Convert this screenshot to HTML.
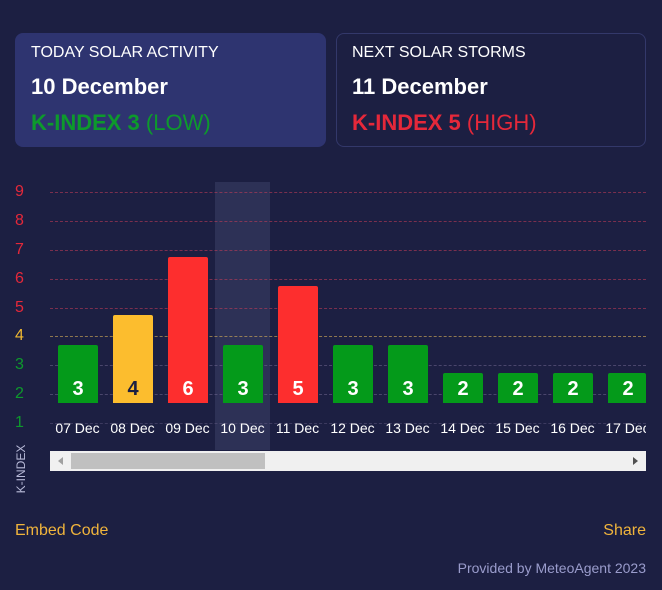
<!DOCTYPE html>
<html><head><meta charset="utf-8"><style>
*{margin:0;padding:0;box-sizing:border-box}
body{width:662px;height:590px;background:#1c1f42;font-family:"Liberation Sans",Arial,sans-serif;position:relative;overflow:hidden;color:#fff}
.a{position:absolute}
.card{position:absolute;top:33px;height:114px;border-radius:8px}
.t{font-size:16px;position:absolute;left:16px;top:11px}
.d{font-size:22px;font-weight:bold;position:absolute;left:16px;top:41px}
.k{font-size:22px;position:absolute;left:16px;top:77px}
.yl{position:absolute;left:15px;font-size:16px;width:12px}
.gl{position:absolute;left:50px;width:596px;height:0;border-top:1px dashed rgba(200,60,90,0.55)}
.bar{position:absolute;width:40px;border-radius:2px 2px 0 0;text-align:center;font-weight:bold;font-size:20px}
.bar span{position:absolute;left:0;right:0;bottom:2px;line-height:24px}
.dl{position:absolute;top:419px;width:55px;text-align:center;font-size:14px;color:#fff}
</style></head><body>
<div class="card" style="left:15px;width:311px;background:#2e3470">
<div class="t">TODAY SOLAR ACTIVITY</div>
<div class="d">10 December</div>
<div class="k" style="color:#0d9a2c"><b>K-INDEX 3</b> (LOW)</div>
</div>
<div class="card" style="left:336px;width:310px;border:1px solid #33386a">
<div class="t" style="left:15px;top:10px">NEXT SOLAR STORMS</div>
<div class="d" style="left:15px;top:40px">11 December</div>
<div class="k" style="left:15px;top:76px;color:#e5283a"><b>K-INDEX 5</b> (HIGH)</div>
</div>

<div class="a" style="left:215px;top:182px;width:55px;height:268px;background:#2d3156"></div>

<div class="gl" style="top:192px"></div>
<div class="gl" style="top:221px"></div>
<div class="gl" style="top:250px"></div>
<div class="gl" style="top:279px"></div>
<div class="gl" style="top:308px"></div>
<div class="gl" style="top:336px;border-color:rgba(220,180,90,0.6)"></div>
<div class="gl" style="top:365px;border-color:rgba(120,110,150,0.5)"></div>
<div class="gl" style="top:394px;border-color:rgba(120,110,150,0.5)"></div>
<div class="gl" style="top:423px;border-color:rgba(120,110,150,0.35)"></div>

<div class="yl" style="top:183px;color:#e5283a">9</div>
<div class="yl" style="top:212px;color:#e5283a">8</div>
<div class="yl" style="top:241px;color:#e5283a">7</div>
<div class="yl" style="top:270px;color:#e5283a">6</div>
<div class="yl" style="top:299px;color:#e5283a">5</div>
<div class="yl" style="top:327px;color:#f0b930">4</div>
<div class="yl" style="top:356px;color:#0d9a2c">3</div>
<div class="yl" style="top:385px;color:#0d9a2c">2</div>
<div class="yl" style="top:414px;color:#0d9a2c">1</div>

<div class="bar" style="left:58px;top:345px;height:58px;background:#049a1a"><span>3</span></div>
<div class="bar" style="left:113px;top:315px;height:88px;background:#fcbd2e;color:#1c1f42"><span>4</span></div>
<div class="bar" style="left:168px;top:257px;height:146px;background:#fd2e2e"><span>6</span></div>
<div class="bar" style="left:223px;top:345px;height:58px;background:#049a1a"><span>3</span></div>
<div class="bar" style="left:278px;top:286px;height:117px;background:#fd2e2e"><span>5</span></div>
<div class="bar" style="left:333px;top:345px;height:58px;background:#049a1a"><span>3</span></div>
<div class="bar" style="left:388px;top:345px;height:58px;background:#049a1a"><span>3</span></div>
<div class="bar" style="left:443px;top:373px;height:30px;background:#049a1a"><span>2</span></div>
<div class="bar" style="left:498px;top:373px;height:30px;background:#049a1a"><span>2</span></div>
<div class="bar" style="left:553px;top:373px;height:30px;background:#049a1a"><span>2</span></div>
<div class="bar" style="left:608px;top:373px;height:30px;width:38px;background:#049a1a"><span style="width:40px">2</span></div>

<div class="a" style="left:50px;top:410px;width:596px;height:30px;overflow:hidden">
<div class="dl" style="left:0;top:10px">07 Dec</div>
<div class="dl" style="left:55px;top:10px">08 Dec</div>
<div class="dl" style="left:110px;top:10px">09 Dec</div>
<div class="dl" style="left:165px;top:10px">10 Dec</div>
<div class="dl" style="left:220px;top:10px">11 Dec</div>
<div class="dl" style="left:275px;top:10px">12 Dec</div>
<div class="dl" style="left:330px;top:10px">13 Dec</div>
<div class="dl" style="left:385px;top:10px">14 Dec</div>
<div class="dl" style="left:440px;top:10px">15 Dec</div>
<div class="dl" style="left:495px;top:10px">16 Dec</div>
<div class="dl" style="left:550px;top:10px">17 Dec</div>
</div>

<div class="a" style="left:50px;top:451px;width:596px;height:20px;background:#f0f0f0"></div>
<div class="a" style="left:71px;top:453px;width:194px;height:16px;background:#c0c0c0"></div>
<div class="a" style="left:58px;top:457px;width:0;height:0;border-top:4px solid transparent;border-bottom:4px solid transparent;border-right:5px solid #a0a0a0"></div>
<div class="a" style="left:633px;top:457px;width:0;height:0;border-top:4px solid transparent;border-bottom:4px solid transparent;border-left:5px solid #505050"></div>

<div class="a" style="left:-6px;top:462px;width:54px;font-size:12px;color:#b8bad8;transform:rotate(-90deg);text-align:center">K-INDEX</div>

<div class="a" style="left:15px;top:522px;font-size:16px;color:#f0b43c">Embed Code</div>
<div class="a" style="right:16px;top:522px;font-size:16px;color:#f0b43c">Share</div>
<div class="a" style="right:16px;top:560px;font-size:14px;color:#9a9ccc">Provided by MeteoAgent 2023</div>
</body></html>
